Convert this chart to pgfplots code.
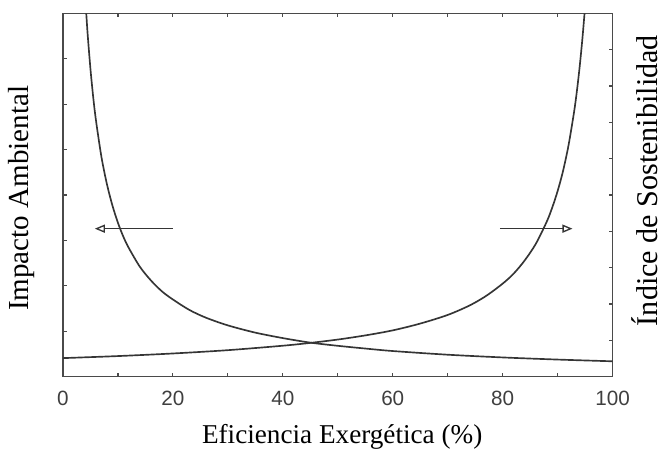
\documentclass[border=0pt]{standalone}
\usepackage{pgfplots}
\pgfplotsset{compat=1.18}
\usepackage{fontspec}
\setmainfont{Liberation Serif}
\setsansfont{Liberation Sans}
\usetikzlibrary{arrows.meta}
\definecolor{curve}{HTML}{353535}
\definecolor{frame}{HTML}{4A4A4A}
\definecolor{ticklab}{HTML}{3F3F3F}
\begin{document}
\begin{tikzpicture}
\begin{axis}[
  name=main,
  scale only axis,
  width=412.5pt, height=272.6pt,
  xmin=0, xmax=100, ymin=0, ymax=8,
  xtick={0,20,40,60,80,100},
  xticklabels={0,20,40,60,80,100},
  minor xtick={10,30,50,70,90},
  ytick={1,2,3,4,5,6,7},
  yticklabels={},
  ytick pos=left,
  xtick pos=both,
  xticklabel pos=bottom,
  tick align=inside,
  major tick length=3pt, minor tick length=3pt,
  every tick/.style={frame, line width=0.9pt},
  axis line style={frame, line width=1.1pt},
  xticklabel style={font=\sffamily\fontsize{15.5}{17}\selectfont, text=ticklab, yshift=-7pt},
  xlabel={Eficiencia Exergética (\%)},
  xlabel style={font=\fontsize{20.4}{24}\selectfont, at={(axis description cs:0.508,-0.165)}, anchor=center},
  ylabel={Impacto Ambiental},
  ylabel style={font=\fontsize{21.8}{25}\selectfont, at={(axis description cs:-0.0745,0.491)}, anchor=center, rotate=0},
  clip=true,
]
\addplot[curve, line width=1.25pt, smooth] coordinates {
 (4.24,8.0) (4.5,7.53) (5,6.78) (5.5,6.16) (6,5.65) (7,4.84) (8,4.24) (9,3.77)
 (10,3.39) (11,3.08) (12,2.83) (14,2.42) (16,2.12) (18,1.88) (20,1.70) (23,1.47)
 (26,1.30) (30,1.13) (35,0.97) (40,0.85) (45,0.75) (50,0.68) (55,0.62) (60,0.565)
 (70,0.484) (80,0.424) (90,0.377) (100,0.339)
};
\addplot[curve, line width=1.25pt, smooth] coordinates {
 (0,0.409) (10,0.454) (20,0.511) (30,0.584) (40,0.682) (45,0.744) (50,0.818)
 (55,0.909) (60,1.02) (65,1.17) (70,1.36) (74,1.57) (77,1.78) (80,2.05) (82,2.27)
 (84,2.56) (86,2.92) (88,3.41) (89,3.72) (90,4.09) (91,4.54) (92,5.11) (93,5.84)
 (93.5,6.29) (94,6.82) (94.5,7.44) (94.89,8.0)
};
\draw[-{Triangle[open,length=7.5pt,width=6pt]}, line width=1pt, curve] (axis cs:20,3.26) -- (axis cs:5.8,3.26);
\draw[-{Triangle[open,length=7.5pt,width=6pt]}, line width=1pt, curve] (axis cs:79.5,3.26) -- (axis cs:92.7,3.26);
\end{axis}
\begin{axis}[
  scale only axis,
  width=412.5pt, height=272.6pt,
  xmin=0, xmax=100, ymin=0, ymax=10,
  xtick=\empty,
  ytick={1,2,3,4,5,6,7,8,9},
  yticklabels={},
  ytick pos=right,
  tick align=inside,
  major tick length=3pt,
  every tick/.style={frame, line width=0.9pt},
  axis line style={draw=none},
  ylabel={Índice de Sostenibilidad},
  ylabel style={font=\fontsize{22.6}{26}\selectfont, at={(axis description cs:1.058,0.54)}, anchor=center, rotate=0},
]
\end{axis}
\path[use as bounding box] ([xshift=-47.25pt,yshift=-57.75pt]main.south west) rectangle ([xshift=36.75pt,yshift=10.1pt]main.north east);
\end{tikzpicture}
\end{document}
